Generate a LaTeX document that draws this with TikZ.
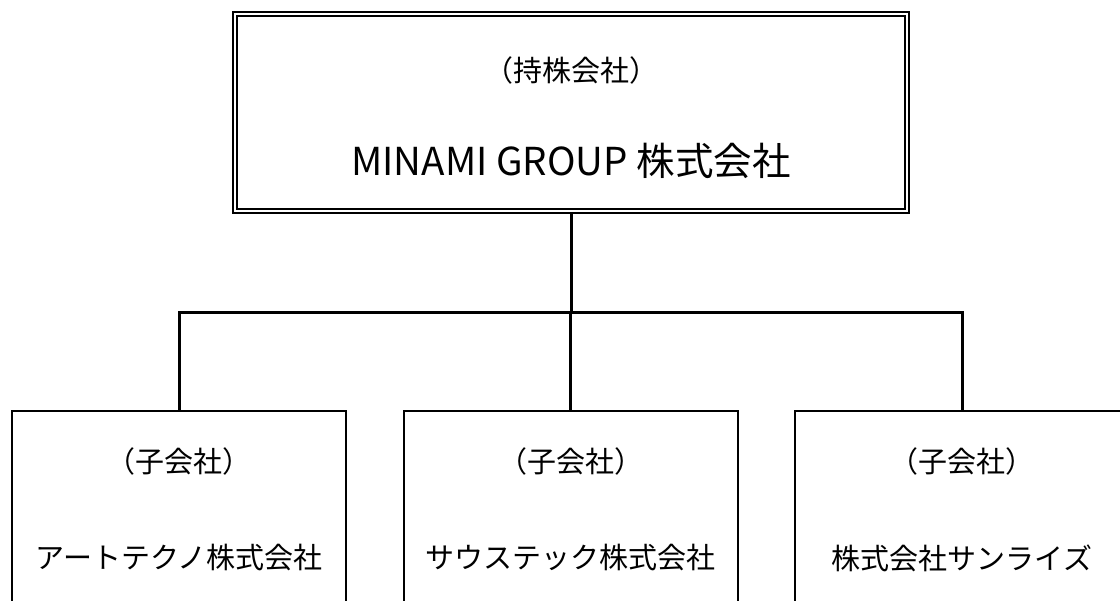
\documentclass[tikz,border=0pt]{standalone}
\usepackage{fontspec}
\setmainfont{Noto Sans CJK JP}
\begin{document}
\begin{tikzpicture}[x=1pt,y=-1pt,
  topbox/.style={draw,line width=2pt,double,double distance=2pt,minimum width=672pt,minimum height=197.5pt,inner sep=0pt},
  subbox/.style={draw,line width=2pt,minimum width=334pt,minimum height=209pt,inner sep=0pt},
  conn/.style={line width=3pt},
  small/.style={font=\fontsize{29}{35}\selectfont,inner sep=0pt},
  big/.style={font=\fontsize{38.5}{46}\selectfont,inner sep=0pt}]
\useasboundingbox (0,0) rectangle (1120,601);
\clip (0,0) rectangle (1120,601);
\fill[white] (0,0) rectangle (1120,601);
\node[topbox] (top) at (571,112.75) {};
\node[small] (toplab) at (571,70) {（持株会社）};
\node[big] (topname) at (571,161) {MINAMI GROUP 株式会社};
\node[subbox] (b1) at (179,515.5) {};
\node[subbox] (b2) at (570.5,515.5) {};
\node[subbox] (b3) at (962,515.5) {};
\node[small] (l1) at (179,461) {（子会社）};
\node[small] (n1) at (179,558) {アートテクノ株式会社};
\node[small] (l2) at (570.5,461) {（子会社）};
\node[small] (n2) at (570.5,558) {サウステック株式会社};
\node[small] (l3) at (962,461) {（子会社）};
\node[small] (n3) at (962,558) {株式会社サンライズ};
\coordinate (j) at (571,312.5);
\draw[conn] (top.south) -- (j);
\draw[conn] (b1.north) |- (j) -| (b3.north);
\draw[conn] (b2.north) -- (b2.north |- j);
\end{tikzpicture}
\end{document}
